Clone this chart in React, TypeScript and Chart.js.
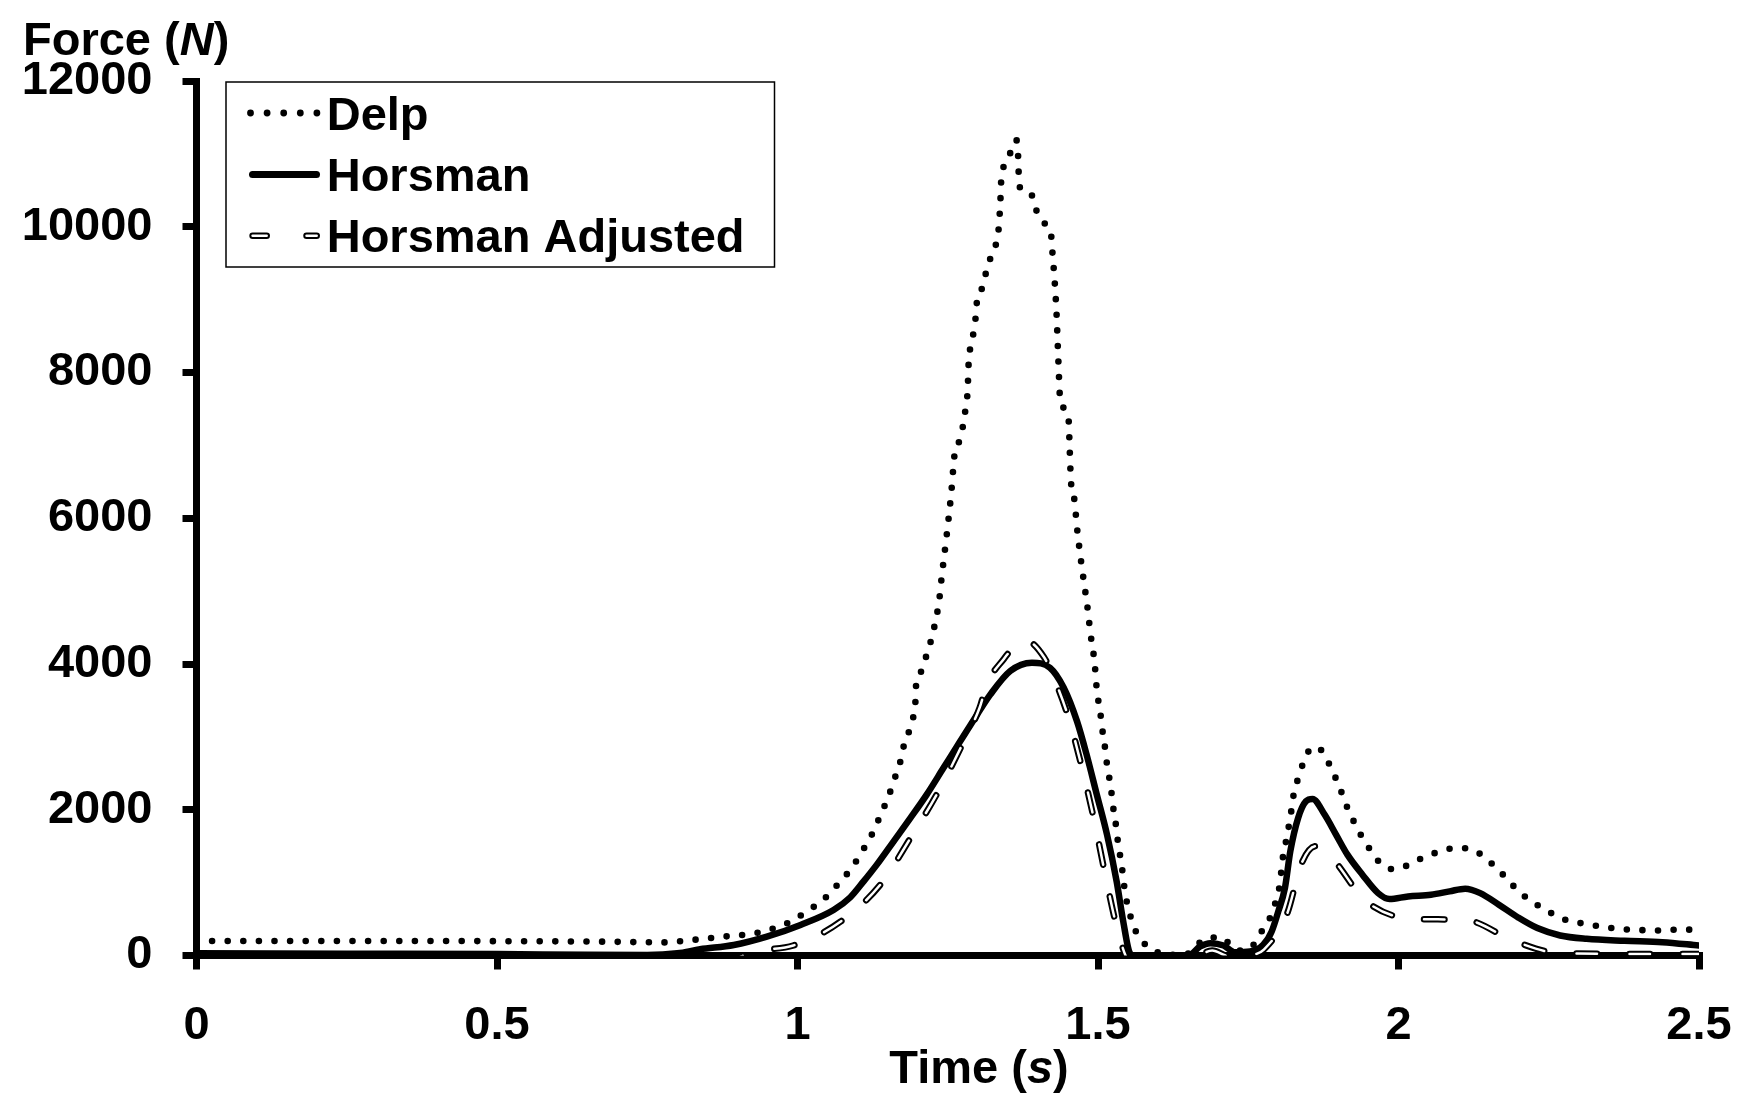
import React, { useEffect, useRef } from "react";
import { Chart, registerables } from "chart.js";

Chart.register(...registerables);

// ---------------- data ----------------
const seriesNames = ["Delp", "Horsman", "Horsman Adjusted"];

const delpTime = [
  0, 0.15, 0.3, 0.45, 0.6, 0.672, 0.777, 0.827, 0.88, 0.93, 0.98, 1.003, 1.024, 1.044, 1.063, 1.08,
  1.095, 1.109, 1.122, 1.133, 1.143, 1.153, 1.161, 1.17, 1.175, 1.184, 1.191, 1.196, 1.197, 1.203,
  1.21, 1.217, 1.225, 1.23, 1.235, 1.24, 1.248, 1.2553, 1.2625, 1.27, 1.28, 1.283, 1.285, 1.289,
  1.2936, 1.297, 1.299, 1.309, 1.314, 1.322, 1.331, 1.335, 1.338, 1.339, 1.345, 1.356, 1.364, 1.367,
  1.369, 1.382, 1.391, 1.398, 1.412, 1.422, 1.424, 1.428, 1.431, 1.433, 1.435, 1.436, 1.44, 1.451,
  1.453, 1.455, 1.46, 1.466, 1.472, 1.477, 1.482, 1.485, 1.488, 1.492, 1.495, 1.497, 1.5, 1.504,
  1.507, 1.511, 1.514, 1.518, 1.522, 1.525, 1.529, 1.532, 1.536, 1.54, 1.543, 1.547, 1.553, 1.561,
  1.575, 1.594, 1.615, 1.645, 1.662, 1.681, 1.706, 1.725, 1.742, 1.761, 1.774, 1.788, 1.796, 1.802,
  1.805, 1.808, 1.814, 1.822, 1.826, 1.833, 1.841, 1.852, 1.862, 1.873, 1.885, 1.896, 1.906, 1.915,
  1.926, 1.938, 1.951, 1.967, 1.989, 2.014, 2.037, 2.061, 2.087, 2.111, 2.136, 2.156, 2.174, 2.192,
  2.212, 2.232, 2.254, 2.279, 2.303, 2.329, 2.355, 2.38, 2.406, 2.433, 2.458, 2.5,
];
const delpForce = [
  200, 200, 200, 198, 194, 190, 180, 215, 261, 307, 431, 536, 650, 774, 939, 1095,
  1260, 1448, 1631, 1828, 2016, 2218, 2415, 2621, 2822, 3034, 3240, 3446, 3680, 3850,
  3990, 4192, 4403, 4614, 4820, 5200, 5750, 6300, 6946, 7070, 7523, 7740, 8170, 8376,
  8586, 8801, 9013, 9182, 9388, 9590, 9787, 10002, 10429, 10643, 10850, 11047, 11193, 10983,
  10557, 10484, 10415, 10213, 10038, 9883, 9667, 9241, 8815, 8389, 7963, 7748, 7542, 7358,
  6932, 6506, 6296, 5800, 5400, 5100, 4811, 4595, 4385, 4174, 3959, 3739, 3528, 3322,
  3111, 2896, 2680, 2478, 2264, 2048, 1842, 1631, 1411, 1200, 990, 774, 568, 367,
  183, 65, 10, 10, 124, 238, 247, 100, 65, 169, 355, 550, 747, 948,
  1155, 1370, 1613, 2003, 2231, 2429, 2630, 2822, 2860, 2804, 2621, 2424, 2222, 2025,
  1833, 1645, 1475, 1292, 1187, 1233, 1329, 1407, 1467, 1471, 1393, 1255, 1109, 948,
  797, 687, 582, 486, 444, 408, 376, 357, 348, 344, 353, 355,
];

const horsmanTime = [
  0, 0.25, 0.5, 0.65, 0.75, 0.8, 0.838, 0.894, 0.949, 1.005, 1.06, 1.088, 1.11, 1.132, 1.16, 1.188,
  1.215, 1.243, 1.271, 1.299, 1.321, 1.354, 1.39, 1.42, 1.443, 1.465, 1.481, 1.498, 1.515, 1.531,
  1.542, 1.553, 1.56, 1.65, 1.67, 1.687, 1.709, 1.728, 1.753, 1.775, 1.789, 1.8, 1.811, 1.82,
  1.833, 1.846, 1.857, 1.877, 1.896, 1.915, 1.94, 1.966, 1.985, 2.016, 2.054, 2.085, 2.111, 2.136,
  2.167, 2.199, 2.231, 2.269, 2.313, 2.376, 2.439, 2.5,
];
const horsmanForce = [
  30, 25, 20, 10, 8, 30, 85, 144, 259, 420, 625, 800, 1017, 1247, 1567, 1888,
  2208, 2575, 2942, 3308, 3583, 3904, 4018, 3949, 3674, 3216, 2758, 2208, 1659, 1017,
  467, 32, 0, 0, 124, 169, 137, 45, 55, 147, 330, 605, 925, 1430,
  1888, 2117, 2149, 1934, 1659, 1384, 1109, 856, 774, 811, 834, 880, 917, 856,
  697, 522, 376, 275, 229, 202, 183, 137,
];

const adjustedTime = [
  0, 0.86, 0.905, 0.93, 0.993, 1.072, 1.14, 1.188, 1.233, 1.277, 1.303, 1.315, 1.343, 1.366, 1.38,
  1.41, 1.427, 1.451, 1.474, 1.494, 1.512, 1.531, 1.548, 1.575, 1.65, 1.672, 1.69, 1.712, 1.735,
  1.76, 1.776, 1.814, 1.839, 1.862, 1.89, 1.945, 2.024, 2.112, 2.194, 2.27, 2.5,
];
const adjustedForce = [
  -220, -220, -20, 55, 137, 467, 994, 1613, 2231, 2942, 3399, 3721, 4066, 4280, 4320,
  4096, 3803, 3262, 2552, 1842, 1109, 399, -40, -220, -220, 0, 70, 0, -60,
  10, 82, 559, 1269, 1500, 1329, 752, 504, 486, 192, 30, 20,
];

const xTickValues = [0, 0.5, 1, 1.5, 2, 2.5];
const xTickLabels = ["0", "0.5", "1", "1.5", "2", "2.5"];
const yTickValues = [0, 2000, 4000, 6000, 8000, 10000, 12000];
const yTickLabels = ["0", "2000", "4000", "6000", "8000", "10000", "12000"];

const yTitleParts: [string, boolean][] = [["Force (", false], ["N", true], [")", false]];
const xTitleParts: [string, boolean][] = [["Time (", false], ["s", true], [")", false]];

// ---------------- styling ----------------
const FONT_FAMILY = '"Liberation Sans", Arial, sans-serif';
const FONT_SIZE = 47;
const BLACK = "#000000";

function pts(ts: number[], fs: number[]) {
  return ts.map((t, i) => ({ x: t, y: fs[i] }));
}

function drawParts(ctx: CanvasRenderingContext2D, parts: [string, boolean][], x: number, y: number, align: "left" | "center") {
  const fontFor = (it: boolean) => `${it ? "italic " : ""}bold ${FONT_SIZE}px ${FONT_FAMILY}`;
  let total = 0;
  for (const [s, it] of parts) {
    ctx.font = fontFor(it);
    total += ctx.measureText(s).width;
  }
  let cx = align === "center" ? x - total / 2 : x;
  ctx.textAlign = "left";
  ctx.textBaseline = "alphabetic";
  ctx.fillStyle = BLACK;
  for (const [s, it] of parts) {
    ctx.font = fontFor(it);
    ctx.fillText(s, cx, y);
    cx += ctx.measureText(s).width;
  }
}

const overlayPlugin = {
  id: "overlay",
  afterDraw(chart: any) {
    const ctx: CanvasRenderingContext2D = chart.ctx;
    ctx.save();
    // axis titles
    drawParts(ctx, yTitleParts, 23, 55, "left");
    drawParts(ctx, xTitleParts, 979, 1083, "center");

    // legend box
    ctx.lineWidth = 1.5;
    ctx.strokeStyle = BLACK;
    ctx.fillStyle = "#ffffff";
    ctx.fillRect(226, 82, 548.5, 185);
    ctx.strokeRect(226, 82, 548.5, 185);

    // Delp sample (dots)
    ctx.fillStyle = BLACK;
    for (let i = 0; i < 5; i++) {
      ctx.beginPath();
      ctx.arc(250.5 + i * 16.6, 113, 3.4, 0, Math.PI * 2);
      ctx.fill();
    }
    // Horsman sample (solid)
    ctx.lineCap = "round";
    ctx.strokeStyle = BLACK;
    ctx.lineWidth = 7;
    ctx.beginPath();
    ctx.moveTo(252.5, 174.5);
    ctx.lineTo(316.5, 174.5);
    ctx.stroke();
    // Horsman Adjusted sample (outlined dashes)
    const segs = [[252.6, 266.7], [306.5, 316.7]];
    for (const [w, c] of [[6.5, BLACK], [2.5, "#ffffff"]] as [number, string][]) {
      ctx.lineWidth = w;
      ctx.strokeStyle = c;
      for (const [a, b] of segs) {
        ctx.beginPath();
        ctx.moveTo(a, 235.8);
        ctx.lineTo(b, 235.8);
        ctx.stroke();
      }
    }
    // legend texts
    ctx.fillStyle = BLACK;
    ctx.font = `bold ${FONT_SIZE}px ${FONT_FAMILY}`;
    ctx.textAlign = "left";
    ctx.textBaseline = "alphabetic";
    ctx.fillText(seriesNames[0], 326.7, 129.5);
    ctx.fillText(seriesNames[1], 326.7, 190.5);
    ctx.fillText(seriesNames[2], 326.7, 252);
    ctx.restore();
  },
};

export default function App() {
  const canvasRef = useRef<HTMLCanvasElement | null>(null);

  useEffect(() => {
    if (!canvasRef.current) return;
    const tickFont = { family: FONT_FAMILY, size: FONT_SIZE, weight: "bold" as const };
    const common = {
      pointRadius: 0,
      pointHoverRadius: 0,
      fill: false,
      cubicInterpolationMode: "monotone" as const,
      borderJoinStyle: "round" as const,
    };
    const chart = new Chart(canvasRef.current, {
      type: "line",
      data: {
        datasets: [
          {
            ...common,
            label: seriesNames[2] + " inner",
            data: pts(adjustedTime, adjustedForce),
            borderColor: "#ffffff",
            borderWidth: 2.5,
            borderDash: [20.5, 32.5],
            borderCapStyle: "round",
            order: 0,
          },
          {
            ...common,
            label: seriesNames[2],
            data: pts(adjustedTime, adjustedForce),
            borderColor: BLACK,
            borderWidth: 6.5,
            borderDash: [20.5, 32.5],
            borderCapStyle: "round",
            order: 1,
          },
          {
            ...common,
            label: seriesNames[1],
            data: pts(horsmanTime, horsmanForce),
            borderColor: BLACK,
            borderWidth: 6.5,
            borderCapStyle: "round",
            order: 2,
          },
          {
            ...common,
            label: seriesNames[0],
            data: pts(delpTime, delpForce),
            borderColor: BLACK,
            borderWidth: 6.6,
            borderDash: [0, 15.6],
            borderCapStyle: "round",
            order: 3,
          },
        ] as any,
      },
      options: {
        animation: false,
        responsive: false,
        devicePixelRatio: 1,
        layout: { padding: { left: 0, top: 81, right: 46, bottom: 0 } },
        plugins: {
          legend: { display: false },
          tooltip: { enabled: false },
          title: { display: false },
        },
        events: [],
        scales: {
          x: {
            type: "linear",
            min: 0,
            max: 2.5,
            afterBuildTicks: (scale: any) => {
              scale.ticks = xTickValues.map((v) => ({ value: v }));
            },
            afterFit: (scale: any) => {
              scale.height = 145.5;
              scale.paddingLeft = 0;
              scale.paddingRight = 0;
            },
            ticks: {
              autoSkip: false,
              maxRotation: 0,
              minRotation: 0,
              padding: 28,
              color: BLACK,
              font: tickFont,
              callback: (_v: any, i: number) => xTickLabels[i],
            },
            grid: {
              display: true,
              drawOnChartArea: false,
              drawTicks: true,
              tickLength: 14,
              lineWidth: 7,
              color: BLACK,
            },
            border: { display: true, width: 7, color: BLACK },
          },
          y: {
            type: "linear",
            min: 0,
            max: 12000,
            afterBuildTicks: (scale: any) => {
              scale.ticks = yTickValues.map((v) => ({ value: v }));
            },
            afterFit: (scale: any) => {
              scale.width = 196.5;
              scale.paddingTop = 0;
              scale.paddingBottom = 0;
            },
            ticks: {
              autoSkip: false,
              padding: 30,
              color: BLACK,
              font: tickFont,
              callback: (_v: any, i: number) => yTickLabels[i],
            },
            grid: {
              display: true,
              drawOnChartArea: false,
              drawTicks: true,
              tickLength: 14,
              lineWidth: 7,
              color: BLACK,
            },
            border: { display: true, width: 7, color: BLACK },
          },
        },
      } as any,
      plugins: [overlayPlugin],
    });
    return () => chart.destroy();
  }, []);

  return (
    <div style={{ position: "fixed", left: 0, top: 0, width: 1745, height: 1101, background: "#ffffff" }}>
      <canvas ref={canvasRef} width={1745} height={1101} style={{ width: 1745, height: 1101, display: "block" }} />
    </div>
  );
}
